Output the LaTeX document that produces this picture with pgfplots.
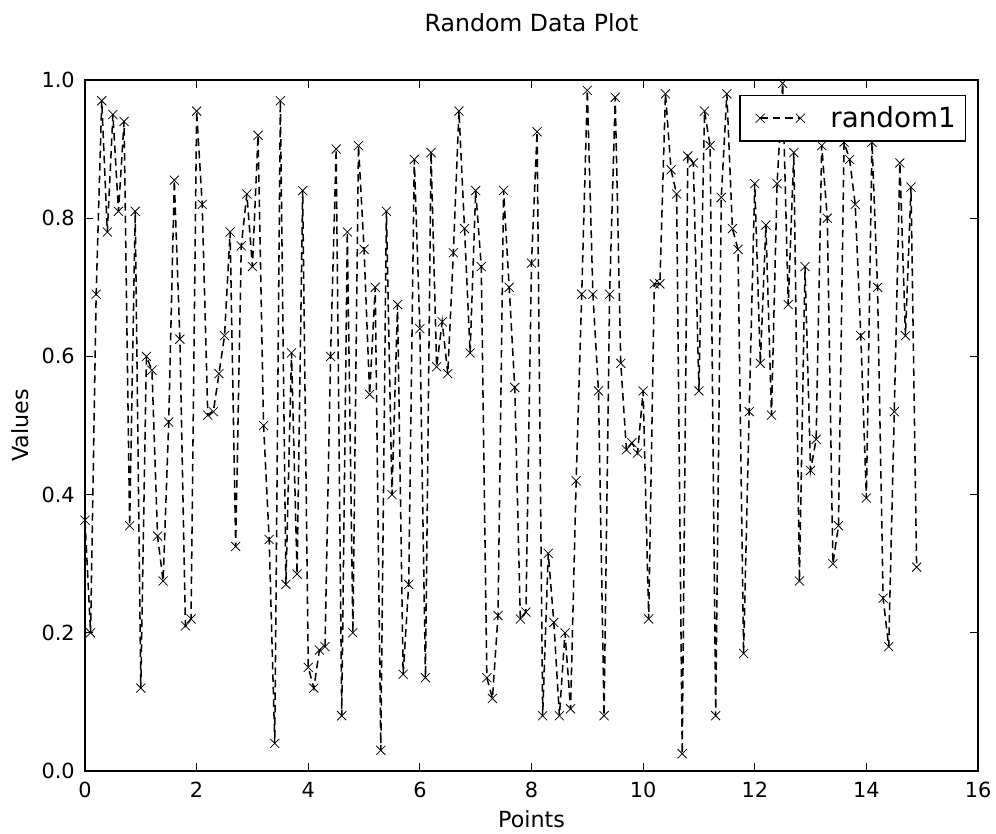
\documentclass[border=0pt]{standalone}
\usepackage{fontspec}
\setmainfont{DejaVu Sans}
\usepackage{pgfplots}
\usepackage{pgfplotstable}
\pgfplotsset{compat=1.18}
\pgfplotstableread{
x y
0.0 0.363
0.1 0.20
0.2 0.69
0.3 0.97
0.4 0.78
0.5 0.95
0.6 0.81
0.7 0.94
0.8 0.355
0.9 0.81
1.0 0.12
1.1 0.60
1.2 0.58
1.3 0.34
1.4 0.275
1.5 0.505
1.6 0.855
1.7 0.625
1.8 0.21
1.9 0.22
2.0 0.955
2.1 0.82
2.2 0.515
2.3 0.52
2.4 0.575
2.5 0.63
2.6 0.78
2.7 0.325
2.8 0.76
2.9 0.835
3.0 0.73
3.1 0.92
3.2 0.50
3.3 0.335
3.4 0.04
3.5 0.97
3.6 0.27
3.7 0.605
3.8 0.285
3.9 0.84
4.0 0.15
4.1 0.12
4.2 0.175
4.3 0.18
4.4 0.60
4.5 0.90
4.6 0.08
4.7 0.78
4.8 0.20
4.9 0.905
5.0 0.755
5.1 0.545
5.2 0.70
5.3 0.03
5.4 0.81
5.5 0.40
5.6 0.675
5.7 0.14
5.8 0.27
5.9 0.885
6.0 0.64
6.1 0.135
6.2 0.895
6.3 0.585
6.4 0.65
6.5 0.575
6.6 0.75
6.7 0.955
6.8 0.785
6.9 0.605
7.0 0.84
7.1 0.73
7.2 0.135
7.3 0.105
7.4 0.225
7.5 0.84
7.6 0.70
7.7 0.555
7.8 0.22
7.9 0.23
8.0 0.735
8.1 0.925
8.2 0.08
8.3 0.315
8.4 0.215
8.5 0.08
8.6 0.20
8.7 0.09
8.8 0.42
8.9 0.69
9.0 0.985
9.1 0.69
9.2 0.55
9.3 0.08
9.4 0.69
9.5 0.975
9.6 0.59
9.7 0.465
9.8 0.475
9.9 0.46
10.0 0.55
10.1 0.22
10.2 0.705
10.3 0.705
10.4 0.98
10.5 0.87
10.6 0.835
10.7 0.025
10.8 0.89
10.9 0.88
11.0 0.55
11.1 0.955
11.2 0.905
11.3 0.08
11.4 0.83
11.5 0.98
11.6 0.785
11.7 0.755
11.8 0.17
11.9 0.52
12.0 0.85
12.1 0.59
12.2 0.79
12.3 0.515
12.4 0.85
12.5 0.995
12.6 0.675
12.7 0.895
12.8 0.275
12.9 0.73
13.0 0.435
13.1 0.48
13.2 0.905
13.3 0.80
13.4 0.30
13.5 0.355
13.6 0.91
13.7 0.885
13.8 0.82
13.9 0.63
14.0 0.395
14.1 0.91
14.2 0.70
14.3 0.25
14.4 0.18
14.5 0.52
14.6 0.88
14.7 0.63
14.8 0.845
14.9 0.295
}\datatable
\begin{document}
\begin{tikzpicture}
\useasboundingbox (-61.2pt,-44.64pt) rectangle (655.92pt,555.12pt);
\begin{axis}[
  at={(0pt,0pt)}, anchor=south west, scale only axis,
  width=642.96pt, height=497.52pt,
  xmin=0, xmax=16, ymin=0, ymax=1,
  xtick={0,2,4,6,8,10,12,14,16},
  ytick={0,0.2,0.4,0.6,0.8,1.0},
  yticklabel style={/pgf/number format/fixed, /pgf/number format/fixed zerofill, /pgf/number format/precision=1, anchor=east, inner sep=0pt, xshift=-7.2pt},
  xticklabel style={anchor=center, inner sep=0pt, yshift=-13.7pt},
  /pgf/number format/assume math mode=true,
  tick label style={font=\fontsize{15}{18}\selectfont},
  tick align=inside, major tick length=5.8pt,
  tick style={black, line width=0.6pt},
  axis line style={line width=0.8pt},
  xlabel={Points}, ylabel={Values},
  every axis x label/.style={at={(axis description cs:0.5,0)}, anchor=center, yshift=-35pt, font=\fontsize{16}{19}\selectfont},
  every axis y label/.style={at={(axis description cs:0,0.5)}, anchor=center, xshift=-47pt, rotate=90, font=\fontsize{16}{19}\selectfont},
  title={Random Data Plot},
  title style={font=\fontsize{17}{20}\selectfont, at={(axis description cs:0.5,1)}, anchor=center, yshift=35pt},
  legend style={at={(rel axis cs:1,1)}, anchor=north east, xshift=-8.6pt, yshift=-10.8pt,
    font=\fontsize{20}{24}\selectfont, draw=black, line width=0.8pt, inner xsep=5pt, inner ysep=6pt},
  legend image code/.code={\path (-9pt,0pt); \draw[#1] plot coordinates {(0pt,0pt) (29pt,0pt)}; \path (48pt,0pt);},
]
\addplot[black, line width=1.1pt, dash pattern=on 5.5pt off 3.5pt, mark=x, mark size=4.6pt,
  mark options={solid, line width=0.55pt}] table[x=x,y=y] {\datatable};
\addlegendentry{random1}
\end{axis}
\end{tikzpicture}
\end{document}
